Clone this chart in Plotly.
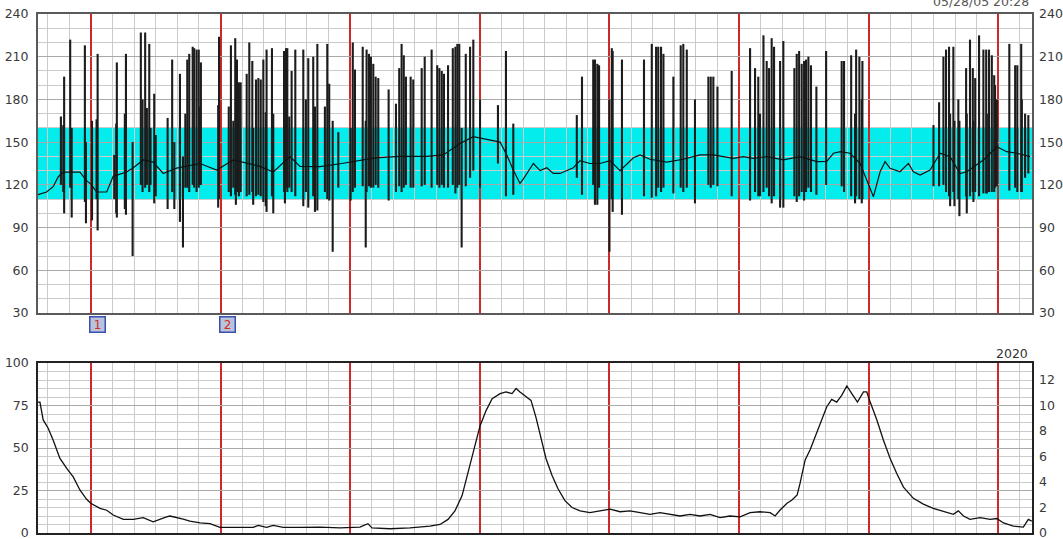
import plotly.graph_objects as go

# ---------------- data (time in minutes, red marker lines every 6 min) ----------------
base_t = [3.53,3.95,4.25,4.49,4.72,5.49,5.80,6.03,6.26,6.73,7.03,7.65,7.96,8.42,8.88,9.35,9.97,11.05,11.82,12.59,
          13.82,14.44,15.21,15.68,16.60,17.61,19.15,20.31,21.54,22.31,23.08,23.70,24.32,24.94,25.25,25.55,25.86,26.01,
          26.48,26.79,27.10,27.40,27.71,28.02,28.33,28.64,29.10,29.56,30.03,30.49,31.11,31.42,31.88,32.65,33.42,34.19,
          34.81,35.74,36.20,36.66,37.28,38.05,38.82,39.60,40.06,40.37,40.68,41.14,41.60,41.91,42.22,42.53,42.76,42.99,
          43.45,43.84,44.07,44.38,44.84,45.31,45.77,46.23,46.54,47.31,47.93,48.39,48.86,49.47]
base_bpm = [113,115,118.7,125.7,129,129,123,120,115,115,126,129,132,137.5,136,128,131.8,135,130.4,137.5,
            133,129,139.8,133,132.8,135,139,140,140,141,149,153.8,152,150,141,130.4,121,124,
            135,130,132,128,128,130,132,137,135,135,137,130,139,141,138,136,138,141,
            141,138.6,139.8,138.6,139.8,137.5,139.8,136.3,136.5,142.2,143.3,142.2,135.1,123.4,111.7,129.2,136.3,131.6,
            129.2,135.1,129.2,126.9,130.4,142.2,139.8,128,129.2,137.5,146.8,143.3,142.2,139.8]

spike_t = [4.61,4.72,4.76,5.04,5.11,5.72,5.77,6.05,6.26,6.31,
           7.08,7.17,7.20,7.57,7.62,7.93,8.31,8.39,8.51,8.59,
           8.70,8.76,8.93,9.00,9.55,9.76,9.86,10.12,10.26,10.37,
           10.46,10.55,10.71,10.78,10.89,10.99,11.05,11.09,11.89,11.93,
           12.38,12.48,12.59,12.68,12.71,12.76,12.85,12.93,13.21,13.33,
           13.47,13.51,13.64,13.75,13.86,13.98,14.09,14.13,14.38,14.44,
           14.94,14.98,15.03,15.09,15.18,15.29,15.46,15.83,15.95,16.06,
           16.29,16.37,16.48,16.83,16.94,17.03,17.19,17.45,18.02,18.12,
           18.22,18.58,18.72,18.76,18.87,18.96,19.07,19.18,19.30,19.78,
           20.12,20.27,20.38,20.48,20.58,20.80,20.92,21.31,21.45,21.77,
           22.03,22.13,22.24,22.34,22.53,22.75,22.87,22.96,23.05,23.16,
           23.35,23.55,23.70,24.01,24.84,25.21,25.55,28.49,28.73,29.25,
           29.33,29.44,29.52,30.00,30.11,30.15,30.58,31.60,31.96,32.16,
           32.26,32.39,32.50,32.96,33.30,33.42,33.58,33.96,34.58,34.69,
           34.81,35.00,35.66,36.51,36.74,36.89,36.97,37.13,37.28,37.39,
           37.51,37.62,37.90,38.05,38.56,38.67,38.78,38.90,39.01,39.10,
           39.21,39.33,39.58,40.03,40.75,40.86,41.19,41.37,41.42,41.57,
           41.68,41.71,45.00,45.26,45.46,45.58,45.72,45.77,45.92,45.97,
           46.15,46.20,46.51,46.54,46.69,46.82,46.85,46.93,47.11,47.31,
           47.44,47.47,47.57,47.70,47.81,47.85,47.93,48.51,48.78,48.88,
           49.06,49.09,49.24,49.39]
spike_top = [168,162,196,222,160,218,150,165,166,212,
             141,163,206,170,212,150,227,180,227,174,
             219,160,184,155,167,208,150,198,140,170,
             208,212,217,216,215,215,175,206,176,224,
             175,218,165,223,170,208,192,192,198,220,
             207,160,194,195,194,208,171,215,216,170,
             214,160,216,216,168,200,215,215,180,209,
             210,175,219,175,219,191,165,157,160,220,
             201,217,165,215,212,210,205,196,195,187,
             177,202,219,211,196,196,194,202,210,215,
             204,202,200,198,204,216,217,219,219,160,
             212,217,222,180,176,214,163,169,196,208,
             208,205,204,180,216,214,208,208,219,217,
             217,217,212,196,218,219,215,180,196,196,
             196,189,200,216,202,196,170,225,207,202,
             223,217,207,221,202,212,214,205,207,208,
             210,204,189,214,207,207,211,170,215,210,
             180,207,162,178,210,215,217,170,217,165,
             180,165,202,170,222,202,165,195,225,215,
             215,170,215,211,197,190,180,219,204,204,
             219,180,170,169]
spike_bottom = [120,115,100,118,97,108,93,95,110,88,
                110,100,97,103,99,70,120,115,118,120,
                115,120,107,112,103,115,103,94,76,118,
                118,115,120,118,115,118,120,120,104,110,
                115,112,118,113,106,115,112,115,112,113,
                115,106,112,113,112,108,105,101,112,100,
                115,107,118,115,118,115,112,105,115,104,
                112,101,102,115,110,109,73,118,109,115,
                118,119,76,115,119,118,118,120,118,109,
                115,119,115,118,120,118,118,119,120,118,
                120,118,120,118,118,120,114,118,120,76,
                119,125,130,118,135,112,113,125,113,120,
                106,106,118,73,110,101,99,112,111,112,
                118,115,118,114,118,115,118,107,120,118,
                120,119,112,109,115,112,112,115,118,112,
                107,112,104,104,112,108,112,115,109,115,
                118,115,113,120,119,115,112,107,112,110,
                107,110,119,119,120,115,112,105,115,105,
                110,98,112,100,112,115,108,115,112,114,
                114,114,115,115,115,118,119,116,118,115,
                115,115,125,128]

uc_t = [3.53,3.64,3.79,4.02,4.25,4.56,4.88,5.18,5.49,5.80,5.99,6.42,6.73,7.03,7.50,7.96,8.42,8.88,9.50,9.66,
        10.27,10.58,11.05,11.51,11.97,12.59,13.51,13.75,14.13,14.44,14.90,15.68,16.60,17.53,18.45,18.82,19.01,
        19.84,20.77,21.69,22.16,22.53,22.85,23.18,23.45,23.73,24.01,24.29,24.57,24.94,25.21,25.49,25.68,25.86,
        26.14,26.37,26.60,26.83,27.06,27.34,27.62,27.94,28.27,28.64,29.10,29.56,30.03,30.49,30.95,31.42,31.88,
        32.34,32.81,33.27,33.73,34.19,34.66,35.12,35.58,36.05,36.51,36.97,37.44,37.67,37.90,38.22,38.45,38.69,
        38.82,39.06,39.29,39.52,39.75,40.06,40.29,40.52,40.75,40.99,41.22,41.48,41.76,41.91,42.07,42.38,42.68,
        42.99,43.30,43.61,44.07,44.53,44.99,45.61,45.92,46.15,46.39,46.69,47.16,47.62,47.93,48.24,48.70,49.16,
        49.39,49.55]
uc_val = [77,77,66.5,61.6,54.7,44,38,33,25.3,19.8,17.5,14.5,13.4,10.6,8,8,9,6.6,9.5,10,
          8.2,7,6,5.5,3.3,3.3,3.3,4.5,3.3,4.5,3.3,3.3,3.5,3,3.5,5.5,3,
          2.5,3,4,5,8,13,22,35,50,63,72,79,82,83,82,85,83,
          80,78,68,55,44,34,26,19,15,13,12,13,14,12.5,13,12,11,
          12,11,10,11,10,11,9,10,9.5,12,12.5,12,10,13.5,17.5,19.4,22.4,
          29,43,49,56.7,64.5,74.3,78.6,77,81,86.5,82,77,83,83,77,66.5,54.7,
          44,35,27,20.4,17,14.5,12,11,13,10,8,9,8,8.5,5.9,4,3.5,
          8,7]

fhr_ticks = [30, 60, 90, 120, 150, 180, 210, 240]
uc_ticks_left = [0, 25, 50, 75, 100]
uc_ticks_right = [0, 2, 4, 6, 8, 10, 12]
uc_right_per_left = 12 / 90          # right scale: 75 on the left reads as 10 on the right
normal_band = (110, 160)
marker_times = [6, 12]
marker_labels = ["1", "2"]
time_range = [3.55, 49.56]
timestamp_text = "05/28/05 20:28"
year_text = "2020"

assert len(spike_t) == len(spike_top) == len(spike_bottom)
assert len(base_t) == len(base_bpm)
assert len(uc_t) == len(uc_val)

# ---------------- styles ----------------
W, H = 1063, 539
FONT = dict(family="DejaVu Sans", size=12.5, color="#3a3a3a")
RED = "#cc2a2a"
MINOR_GRID = "#cbcbcb"
MAJOR_GRID = "#a9a9a9"

def px_x(p):
    return p / W

def px_y(p):
    return 1 - p / H

xdom = [px_x(38), px_x(1032)]
top_dom = [px_y(313), px_y(14)]
bot_dom = [px_y(533), px_y(363)]

# spikes as vertical segments
sx, sy = [], []
for t, lo, hi in zip(spike_t, spike_bottom, spike_top):
    sx += [t, t, None]
    sy += [lo, hi, None]

fig = go.Figure()
fig.add_trace(go.Scatter(x=sx, y=sy, mode="lines", line=dict(color="#1c1c1c", width=2.1),
                         xaxis="x", yaxis="y", hoverinfo="skip", showlegend=False))
fig.add_trace(go.Scatter(x=base_t, y=base_bpm, mode="lines", line=dict(color="#111111", width=1.2),
                         xaxis="x", yaxis="y", showlegend=False))
fig.add_trace(go.Scatter(x=uc_t, y=uc_val, mode="lines", line=dict(color="#111111", width=1.3),
                         xaxis="x2", yaxis="y3", showlegend=False))
# transparent twins so the right-hand axes get drawn
fig.add_trace(go.Scatter(x=base_t, y=base_bpm, mode="lines", line=dict(color="rgba(0,0,0,0)", width=0),
                         xaxis="x", yaxis="y2", hoverinfo="skip", showlegend=False))
fig.add_trace(go.Scatter(x=uc_t, y=[v * uc_right_per_left for v in uc_val], mode="lines",
                         line=dict(color="rgba(0,0,0,0)", width=0),
                         xaxis="x2", yaxis="y4", hoverinfo="skip", showlegend=False))

xcommon = dict(domain=xdom, range=time_range, showticklabels=False, ticks="",
               tick0=0, dtick=6, showgrid=True, gridcolor=RED, gridwidth=2.4,
               minor=dict(tick0=0, dtick=1, showgrid=True, gridcolor=MINOR_GRID, gridwidth=1),
               zeroline=False, showline=True, mirror=True, automargin=False)

fig.update_layout(
    width=W, height=H, autosize=False,
    margin=dict(l=0, r=0, t=0, b=0, pad=0),
    paper_bgcolor="white", plot_bgcolor="white",
    showlegend=False,
    xaxis=dict(**xcommon, anchor="y", linecolor="#5a5a5a", linewidth=2),
    xaxis2=dict(**xcommon, anchor="y3", linecolor="#222222", linewidth=1.5),
    yaxis=dict(domain=top_dom, range=[30, 240], tickvals=fhr_ticks, anchor="x", automargin=False,
               showgrid=True, gridcolor=MAJOR_GRID, gridwidth=1.4,
               minor=dict(dtick=10, tick0=0, showgrid=True, gridcolor=MINOR_GRID, gridwidth=1),
               zeroline=False, showline=True, mirror=True, linecolor="#5a5a5a", linewidth=2,
               ticks="", ticklabelstandoff=5, tickfont=FONT, ticklabeloverflow="allow"),
    yaxis2=dict(domain=top_dom, range=[30, 240], tickvals=fhr_ticks, overlaying="y", side="right",
                anchor="x", automargin=False, showgrid=False, zeroline=False, ticks="",
                ticklabelstandoff=6, tickfont=FONT, ticklabeloverflow="allow"),
    yaxis3=dict(domain=bot_dom, range=[0, 100], tickvals=uc_ticks_left, anchor="x2", automargin=False,
                showgrid=True, gridcolor=MAJOR_GRID, gridwidth=1.4,
                minor=dict(dtick=5, tick0=0, showgrid=True, gridcolor=MINOR_GRID, gridwidth=1),
                zeroline=False, showline=True, mirror=True, linecolor="#222222", linewidth=1.5,
                ticks="", ticklabelstandoff=5, tickfont=FONT, ticklabeloverflow="allow"),
    yaxis4=dict(domain=bot_dom, range=[0, 100 * uc_right_per_left], tickvals=uc_ticks_right,
                overlaying="y3", side="right", anchor="x2", automargin=False, showgrid=False,
                zeroline=False, ticks="", ticklabelstandoff=6, tickfont=FONT, ticklabeloverflow="allow"),
)

# normal FHR band
fig.add_shape(type="rect", xref="x domain", yref="y", x0=0, x1=1,
              y0=normal_band[0], y1=normal_band[1], fillcolor="#05ecec",
              line=dict(width=0), layer="below")

# event markers under the top chart
for t, lab in zip(marker_times, marker_labels):
    fig.add_annotation(x=t, xref="x", y=px_y(324), yref="paper", text=lab,
                       xanchor="left", yanchor="middle", xshift=-2, showarrow=False,
                       font=dict(family="DejaVu Sans", size=12, color="#d42a2a"),
                       bgcolor="#b9c3da", bordercolor="#3a4fb0", borderwidth=1.5,
                       width=14, height=14, borderpad=0)

fig.add_annotation(x=px_x(981), xref="paper", y=px_y(1), yref="paper", text=timestamp_text,
                   showarrow=False, xanchor="center", yanchor="middle",
                   font=dict(family="DejaVu Sans", size=12.5, color="#555555"))
fig.add_annotation(x=px_x(1012), xref="paper", y=px_y(353), yref="paper", text=year_text,
                   showarrow=False, xanchor="center", yanchor="middle",
                   font=dict(family="DejaVu Sans", size=12.5, color="#333333"))

fig.write_html("out.html", config={"displayModeBar": False},
               post_script="document.body.style.margin='0';document.body.style.padding='0';")
